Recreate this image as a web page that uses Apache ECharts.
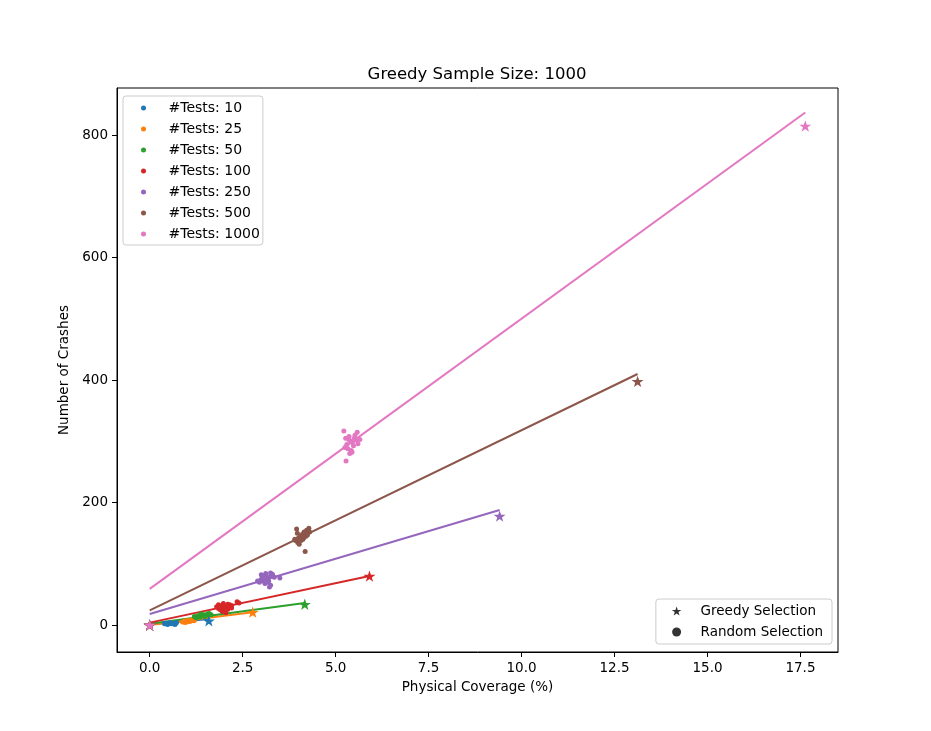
<!DOCTYPE html>
<html>
<head>
<meta charset="utf-8">
<script src="https://cdn.jsdelivr.net/npm/echarts@6/dist/echarts.min.js"></script>
<style>
html,body{margin:0;padding:0;background:#fff;}
#chart{width:931px;height:731px;}
</style>
</head>
<body>
<div id="chart"></div>
<script>
const categories = ['#Tests: 10', '#Tests: 25', '#Tests: 50', '#Tests: 100', '#Tests: 250', '#Tests: 500', '#Tests: 1000'];
const colors = ['#1f77b4', '#ff7f0e', '#2ca02c', '#d62728', '#9467bd', '#8c564b', '#e377c2'];

// Greedy selection points (star markers)
const greedyX = [1.59, 2.77, 4.17, 5.91, 9.41, 13.12, 17.63];
const greedyY = [7, 21, 34, 80, 178, 398, 815];

// Linear fit lines: value at x=0 and at greedy x
const fitStartY = [1, 0, 2, 4, 18, 24, 59];
const fitEndY = [10, 21, 36, 80, 188, 410, 837];

// Random selection points
const random10 = [[0.40,2],[0.45,3],[0.50,2],[0.55,4],[0.60,3],[0.65,2],[0.70,3],[0.72,4],[0.48,1],[0.58,2],[0.42,3],[0.68,1]];
const random25 = [[0.88,5],[0.92,6],[0.97,7],[1.00,5],[1.05,8],[1.10,7],[1.15,9],[1.20,8],[1.02,6],[0.95,4],[1.08,6],[1.18,7]];
const random50 = [[1.20,14],[1.30,15],[1.35,13],[1.40,16],[1.45,17],[1.50,15],[1.55,18],[1.60,19],[1.65,17],[1.25,12],[1.38,18],[1.48,14]];
const random100 = [[1.80,30],[1.85,27],[1.90,25],[1.95,32],[2.00,28],[2.05,30],[2.10,34],[2.15,33],[2.20,32],[1.95,22],[2.00,24],[2.10,26],[2.35,38],[2.40,36],[1.85,33],[2.05,20],[1.90,29],[2.20,28],[2.12,30],[1.98,35]];
const random250 = [[3.00,82],[3.10,80],[3.25,85],[3.30,83],[3.20,78],[3.15,75],[3.05,72],[2.95,70],[3.10,68],[3.20,72],[3.35,78],[3.50,77],[3.22,62],[3.25,65],[3.00,75],[3.12,84],[2.90,72],[3.28,80],[3.18,70],[3.05,78]];
const random500 = [[3.95,157],[3.97,150],[4.05,145],[4.10,148],[4.15,152],[4.22,155],[4.28,158],[4.25,150],[4.20,145],[4.12,140],[3.92,138],[3.98,135],[4.02,132],[4.07,138],[4.18,120],[4.30,152],[4.24,147],[3.90,140],[4.00,142],[4.15,143]];
const random1000 = [[5.22,317],[5.58,315],[5.27,305],[5.35,303],[5.40,300],[5.45,298],[5.50,305],[5.55,302],[5.30,295],[5.25,290],[5.33,288],[5.42,285],[5.38,280],[5.48,293],[5.60,296],[5.28,268],[5.52,310],[5.36,308],[5.44,282],[5.65,303]];
const randomSets = [random10, random25, random50, random100, random250, random500, random1000];

const xTicks = [0, 2.5, 5, 7.5, 10, 12.5, 15, 17.5];
const yTicks = [0, 200, 400, 600, 800];

const STAR = 'path://M50,0 L61.8,35.1 L98.1,35.1 L68.8,56.7 L79.4,91.0 L50,70 L20.6,91.0 L31.2,56.7 L1.9,35.1 L38.2,35.1 Z';
const FONT = 'DejaVu Sans';

const series = [];
for (let i = 0; i < categories.length; i++) {
  series.push({
    name: categories[i], type: 'scatter', data: randomSets[i],
    symbol: 'circle', symbolSize: 5, itemStyle: {color: colors[i], opacity: 1}, z: 2
  });
  series.push({
    name: 'greedy ' + categories[i], type: 'scatter', data: [[0,0],[greedyX[i], greedyY[i]]],
    symbol: STAR, symbolKeepAspect: true, symbolSize: 12, itemStyle: {color: colors[i], opacity: 1}, z: 2
  });
  series.push({
    name: 'fit ' + categories[i], type: 'line', data: [[0, fitStartY[i]], [greedyX[i], fitEndY[i]]],
    showSymbol: false, symbol: 'none', lineStyle: {color: colors[i], width: 2}, itemStyle: {color: colors[i]}, z: 2
  });
}
series.push({name: 'Greedy Selection', type: 'scatter', data: [], itemStyle: {color: '#000'}});
series.push({name: 'Random Selection', type: 'scatter', data: [], itemStyle: {color: '#000'}});

const chart = echarts.init(document.getElementById('chart'), null, {renderer: 'canvas'});
chart.setOption({
  animation: false,
  backgroundColor: '#fff',
  color: colors,
  textStyle: {fontFamily: FONT},
  title: {
    text: 'Greedy Sample Size: 1000',
    left: 472, top: 61, textAlign: 'center',
    textStyle: {fontFamily: FONT, fontSize: 16.5, fontWeight: 'normal', color: '#000'}
  },
  grid: {left: 117, right: 93, top: 88, bottom: 79, show: true, borderColor: '#000', borderWidth: 1, backgroundColor: 'transparent'},
  xAxis: {
    type: 'value', min: -0.88, max: 18.51,
    name: 'Physical Coverage (%)', nameLocation: 'middle', nameGap: 28,
    nameTextStyle: {fontFamily: FONT, fontSize: 13.5, color: '#000'},
    axisLine: {onZero: false, lineStyle: {color: '#000', width: 1}},
    axisTick: {show: true, inside: false, length: 5, customValues: xTicks, lineStyle: {color: '#000'}},
    axisLabel: {customValues: xTicks, margin: 9, fontFamily: FONT, fontSize: 13.5, color: '#000', formatter: v => v.toFixed(1)},
    splitLine: {show: false}
  },
  yAxis: {
    type: 'value', min: -44, max: 877,
    name: 'Number of Crashes', nameLocation: 'middle', nameGap: 41, nameRotate: 90,
    nameTextStyle: {fontFamily: FONT, fontSize: 13.5, color: '#000'},
    axisLine: {onZero: false, lineStyle: {color: '#000', width: 1}},
    axisTick: {show: true, inside: false, length: 5, customValues: yTicks, lineStyle: {color: '#000'}},
    axisLabel: {customValues: yTicks, margin: 9, fontFamily: FONT, fontSize: 13.5, color: '#000', formatter: v => String(v)},
    splitLine: {show: false}
  },
  legend: [
    {
      data: categories.map(c => ({name: c, icon: 'circle'})),
      orient: 'vertical', left: 123, top: 96,
      itemWidth: 40, itemHeight: 5, itemGap: 7,
      padding: [5, 3, 4, 18],
      borderColor: '#cccccc', borderWidth: 1, borderRadius: 3, backgroundColor: 'rgba(255,255,255,0.8)',
      textStyle: {fontFamily: FONT, fontSize: 14, color: '#000', lineHeight: 14},
      selectedMode: false
    },
    {
      data: [{name: 'Greedy Selection', icon: STAR}, {name: 'Random Selection', icon: 'circle'}],
      orient: 'vertical', right: 99, top: 599,
      itemWidth: 38, itemHeight: 9, itemGap: 7,
      padding: [5, 9, 5, 16],
      borderColor: '#cccccc', borderWidth: 1, borderRadius: 3, backgroundColor: 'rgba(255,255,255,0.8)',
      textStyle: {fontFamily: FONT, fontSize: 13.5, color: '#000', lineHeight: 14},
      selectedMode: false
    }
  ],
  series: series
});
</script>
</body>
</html>
